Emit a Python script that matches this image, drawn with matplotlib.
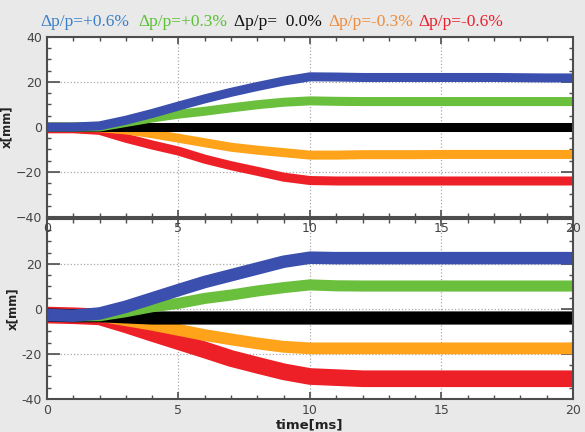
import matplotlib.pyplot as plt
import numpy as np

# time axis [ms] and trend values [mm]
time_ms = [0, 1, 2, 3, 4, 5, 6, 7, 8, 9, 10, 11, 12, 13, 14, 15, 16, 17, 18, 19, 20]

# upper panel
top_p06 = [0, 0, 0.5, 3, 6, 9.3, 12.5, 15.4, 18, 20.4, 22.3, 22.2, 22, 22, 22, 22, 22, 22, 21.9, 21.8, 21.8]
top_p03 = [0, 0, 0, 2, 4, 5.7, 7, 8.5, 9.9, 11, 11.6, 11.4, 11.3, 11.3, 11.3, 11.3, 11.3, 11.3, 11.3, 11.3, 11.3]
top_00 = [0, 0, 0, 0, 0, 0, 0, 0, 0, 0, 0, 0, 0, 0, 0, 0, 0, 0, 0, 0, 0]
top_m03 = [0, 0, -0.3, -1.3, -3, -5, -7, -9, -10.3, -11.4, -12.5, -12.5, -12.3, -12.3, -12.3, -12.2, -12.2, -12.2, -12.2, -12.2, -12.2]
top_m06 = [-0.8, -0.8, -1.5, -5, -8, -10.7, -14.3, -17.2, -19.7, -22.3, -23.8, -24, -24, -24, -24, -24, -24, -24, -24, -24, -24]

# lower panel
bot_p06 = [-2.7, -3, -2, 1, 4.7, 8.4, 12, 15, 18, 21, 22.8, 22.6, 22.6, 22.6, 22.6, 22.6, 22.6, 22.6, 22.6, 22.6, 22.6]
bot_p03 = [-2.7, -3, -3, -1.2, 1, 2.5, 4.7, 6.2, 8, 9.5, 10.7, 10.3, 10.2, 10.2, 10.2, 10.2, 10.2, 10.2, 10.2, 10.2, 10.2]
bot_00 = [-2.7, -3, -3, -3.5, -4, -4, -4, -4, -4, -4, -4, -4, -4, -4, -4, -4, -4, -4, -4, -4, -4]
bot_m03 = [-2.7, -3, -3, -5, -7, -9.3, -11.6, -13.5, -15.3, -16.8, -17.5, -17.5, -17.5, -17.5, -17.5, -17.5, -17.5, -17.5, -17.5, -17.5, -17.5]
bot_m06 = [-2.7, -3, -3.5, -7, -10.8, -14.5, -18.2, -22, -25, -27.9, -30, -30.5, -31, -31, -31, -31, -31, -31, -31, -31, -31]

labels = ['\u0394p/p=+0.6%', '\u0394p/p=+0.3%', '\u0394p/p=  0.0%', '\u0394p/p=-0.3%', '\u0394p/p=-0.6%']
data_colors = ['#3a4fae', '#6abf3c', '#000000', '#ffa31a', '#ee2027']
text_colors = ['#3b80c8', '#5bc135', '#111111', '#ef8b3b', '#ed1f2a']
label_x = [0.069, 0.236, 0.400, 0.562, 0.716]

fig = plt.figure(figsize=(5.85, 4.32), dpi=100)
fig.patch.set_facecolor('#e9e9e9')

ax_top = fig.add_axes([0.0803, 0.4977, 0.8992, 0.4167])
ax_bot = fig.add_axes([0.0803, 0.0764, 0.8992, 0.4167])
ax_top.set_zorder(3)


def style_axes(ax):
    ax.set_xlim(0, 20)
    ax.set_ylim(-40, 40)
    ax.set_xticks([0, 5, 10, 15, 20])
    ax.set_xticks(np.arange(0, 21, 1), minor=True)
    ax.set_yticks([-40, -20, 0, 20, 40])
    ax.set_yticks(np.arange(-40, 41, 5), minor=True)
    ax.tick_params(which='both', direction='in', top=True, right=True,
                   colors='#4d4d4d', labelcolor='#444444', labelsize=9)
    ax.tick_params(axis='x', which='major', length=5, width=1.2)
    ax.tick_params(axis='x', which='minor', length=3, width=1.0)
    ax.tick_params(axis='y', which='major', length=9, width=1.2)
    ax.tick_params(axis='y', which='minor', length=3, width=1.0)
    for s in ax.spines.values():
        s.set_color('#4d4d4d')
        s.set_linewidth(1.5)
    ax.grid(True, which='major', linestyle=':', color='#aaaaaa', linewidth=0.9)
    ax.set_axisbelow(True)
    ax.set_ylabel('x[mm]', fontsize=8.5, fontweight='bold', color='#222222', labelpad=2)


top_series = [top_p06, top_p03, top_00, top_m03, top_m06]
bot_series = [bot_p06, bot_p03, bot_00, bot_m03, bot_m06]
top_widths = [6.5, 6.5, 6.5, 6.5, 6.5]
bot_widths = [9.0, 8.0, 9.5, 8.5, 12.0]

# draw red first so blue ends up on top
for i in reversed(range(5)):
    ax_top.plot(time_ms, top_series[i], color=data_colors[i], lw=top_widths[i],
                solid_capstyle='butt', solid_joinstyle='round')
    ax_bot.plot(time_ms, bot_series[i], color=data_colors[i], lw=bot_widths[i],
                solid_capstyle='butt', solid_joinstyle='round')

style_axes(ax_top)
style_axes(ax_bot)
ax_bot.set_yticks([-40, -20, 0, 20, 40], ['-40', '-20', '0', '20', ''])
ax_bot.set_xlabel('time[ms]', fontsize=9.5, fontweight='bold', color='#222222', labelpad=1)

for lx, txt, c in zip(label_x, labels, text_colors):
    fig.text(lx, 0.949, txt, color=c, fontsize=12.5, family='Liberation Serif',
             ha='left', va='center')

plt.savefig('out.png', dpi=100, facecolor=fig.get_facecolor())
